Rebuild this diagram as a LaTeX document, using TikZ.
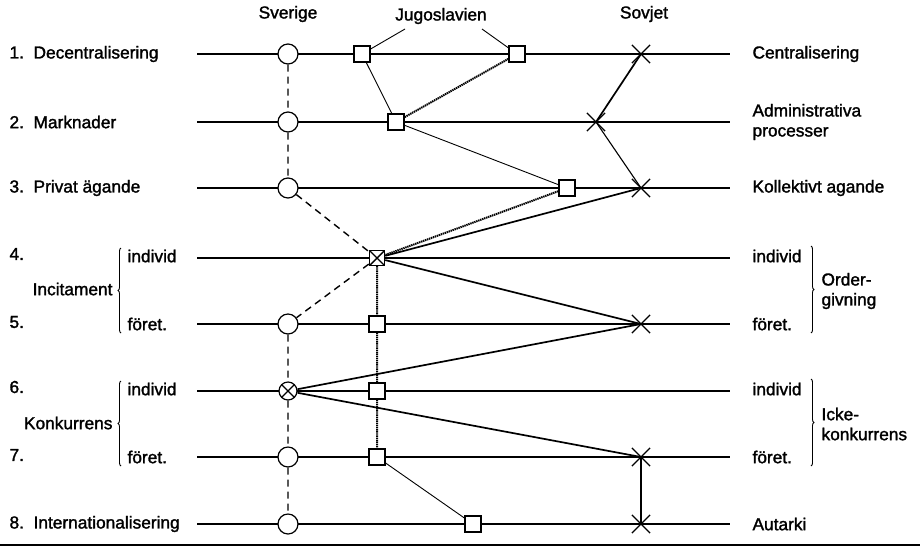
\documentclass[tikz,border=0pt]{standalone}
\usepackage{fontspec}
\setmainfont{Liberation Sans}
\usetikzlibrary{shapes.misc,backgrounds,decorations.pathreplacing}

\begin{document}
\begin{tikzpicture}[x=1pt,y=-1pt,
    font=\fontsize{17.3}{20}\selectfont\addfontfeature{FakeBold=1.6},
    swe/.style={circle, draw, line width=1.2pt, fill=white, minimum size=20pt, inner sep=0pt},
    yug/.style={rectangle, draw, line width=1.4pt, fill=white, minimum size=16pt, inner sep=0pt},
    sov/.style={cross out, draw, line width=1.2pt, minimum size=17pt, inner sep=0pt},
    crossed/.style={path picture={\draw (path picture bounding box.south west) -- (path picture bounding box.north east)
        (path picture bounding box.north west) -- (path picture bounding box.south east);}},
    sweline/.style={line width=1.4pt, dash pattern=on 7pt off 5pt},
    yugline/.style={line width=0.9pt},
    yugdots/.style={line width=2pt, dash pattern=on 1.4pt off 0.7pt},
    sovline/.style={line width=1.7pt},
    lbrace/.style={decorate, decoration={brace, amplitude=3pt}, line width=0.9pt}]
    \useasboundingbox (0,0) rectangle (920,550);

    % Rows
    \foreach \y [count=\i] in {54,122,188,258,324,391,457,524} {
        \coordinate (L\i) at (197,\y);
        \coordinate (R\i) at (730,\y);
    }

    % Column heads
    \node (sverige) at (288,14) {Sverige};
    \node (jugo) at (441,16) {Jugoslavien};
    \node (sovjet) at (644,14) {Sovjet};
    \coordinate (jl) at (405,29);
    \coordinate (jr) at (482,29);

    % Left texts
    \node[anchor=west] (t1) at (6,54) {1.\ \ Decentralisering};
    \node[anchor=west] (t2) at (6,122) {2.\ \ Marknader};
    \node[anchor=west] (t3) at (6,188) {3.\ \ Privat ägande};
    \node[anchor=west] (t4) at (6,254) {4.};
    \node[anchor=west] (t5) at (6,322) {5.};
    \node[anchor=west] (t6) at (6,387) {6.};
    \node[anchor=west] (t7) at (6,455) {7.};
    \node[anchor=west] (t8) at (6,524) {8.\ \ Internationalisering};
    \node[anchor=east] (incit) at (116,289) {Incitament};
    \node[anchor=east] (konk) at (116,423) {Konkurrens};
    \node[anchor=west] (ind4) at (124,256) {individ};
    \node[anchor=west] (for5) at (124,324) {föret.};
    \node[anchor=west] (ind6) at (124,389) {individ};
    \node[anchor=west] (for7) at (124,457) {föret.};
    \draw[lbrace] (121,333) -- (121,248);
    \draw[lbrace] (121,466) -- (121,381);

    % Right texts
    \node[anchor=west] (r1) at (749,54) {Centralisering};
    \node[anchor=west, align=left] (r2) at (749,122) {Administrativa\\processer};
    \node[anchor=west] (r3) at (749,188) {Kollektivt agande};
    \node[anchor=west] (r4) at (749,256) {individ};
    \node[anchor=west] (r5) at (749,324) {föret.};
    \node[anchor=west] (r6) at (749,389) {individ};
    \node[anchor=west] (r7) at (749,457) {föret.};
    \node[anchor=west] (r8) at (749,524) {Autarki};
    \node[anchor=west, align=left] (order) at (818,291) {Order-\\givning};
    \node[anchor=west, align=left] (icke) at (818,424) {Icke-\\konkurrens};
    \draw[lbrace] (811,246) -- (811,333);
    \draw[lbrace] (811,379) -- (811,466);

    % Sverige
    \node[swe] (c1) at (288,54) {};
    \node[swe] (c2) at (288,122) {};
    \node[swe] (c3) at (288,188) {};
    \node[swe] (c5) at (288,324) {};
    \node[swe, crossed, minimum size=18pt] (cx) at (288,391) {};
    \node[swe] (c7) at (288,457) {};
    \node[swe] (c8) at (288,524) {};

    % Jugoslavien
    \node[yug] (j1a) at (362,54) {};
    \node[yug] (j1b) at (517,54) {};
    \node[yug] (j2) at (396,122) {};
    \node[yug] (j3) at (567,188) {};
    \node[yug, crossed, minimum size=15pt] (jx) at (377,258) {};
    \node[yug] (j5) at (377,324) {};
    \node[yug] (j6) at (377,391) {};
    \node[yug] (j7) at (377,457) {};
    \node[yug] (j8) at (473,524) {};

    % Sovjet
    \node[sov] (s1) at (641,54) {};
    \node[sov] (s2) at (596,122) {};
    \node[sov] (s3) at (641,188) {};
    \node[sov] (s5) at (641,324) {};
    \node[sov] (s7) at (641,457) {};
    \node[sov] (s8) at (641,524) {};

    \begin{pgfonlayer}{background}
        \foreach \i in {1,...,8}
            \draw[line width=1.1pt] (L\i) -- (R\i);
        % Sverige path
        \draw[sweline] (c1) -- (c2) -- (c3) -- (jx) -- (c5) -- (cx) -- (c7) -- (c8);
        % Jugoslavien path
        \draw[yugline] (jl) -- (j1a);
        \draw[yugline] (jr) -- (j1b);
        \draw[yugline] (j1a) -- (j2) -- (j3);
        \draw[yugline] (j7) -- (j8);
        \draw[yugdots] (j2) -- (j1b);
        \draw[yugdots] (j3) -- (jx) -- (j5) -- (j6) -- (j7);
        % Sovjet path
        \draw[sovline] (s1.center) -- (s2.center);
        \draw[line width=1.1pt] (s2.center) -- (s3.center);
        \draw[sovline] (s3.center) -- (jx) -- (s5.center) -- (cx) -- (s7.center) -- (s8.center);
    \end{pgfonlayer}

    % Bottom rule
    \draw[line width=1.5pt] (0,545) -- (920,545);
\end{tikzpicture}
\end{document}
